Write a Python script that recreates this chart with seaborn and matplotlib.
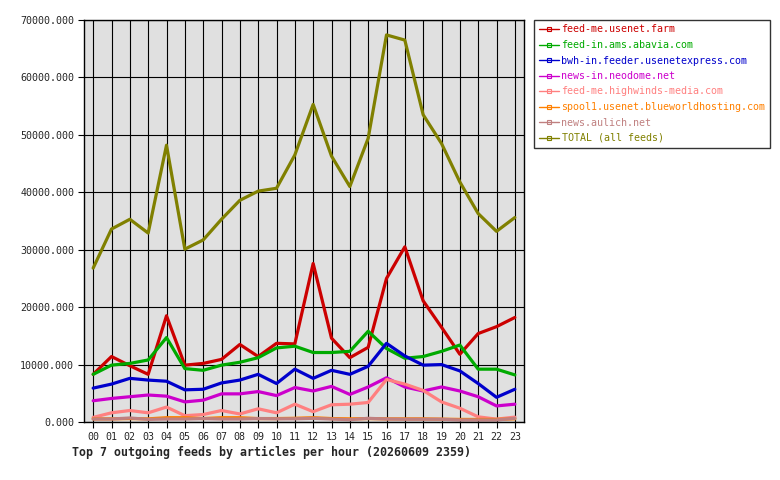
# hourly outgoing feed volumes, rrd style line chart

import matplotlib
matplotlib.use("Agg")
import matplotlib.pyplot as plt
import numpy as np
import pandas as pd
import seaborn as sns
from matplotlib.lines import Line2D

hours = list(range(24))
hour_labels = ["%02d" % h for h in hours]

feeds = [
    "feed-me.usenet.farm",
    "feed-in.ams.abavia.com",
    "bwh-in.feeder.usenetexpress.com",
    "news-in.neodome.net",
    "feed-me.highwinds-media.com",
    "spool1.usenet.blueworldhosting.com",
    "news.aulich.net",
    "TOTAL (all feeds)",
]
colors = ["#CC0000", "#00AA00", "#0000CC", "#CC00CC", "#FF8080", "#FF8000", "#C08080", "#808000"]

usenet_farm = [8300, 11400, 9800, 8300, 18500, 9900, 10200, 10900, 13500, 11400, 13700, 13600,
               27600, 14600, 11200, 13000, 25000, 30500, 21100, 16500, 11800, 15400, 16600, 18200]
abavia = [8300, 9900, 10200, 10800, 14700, 9300, 9000, 9900, 10400, 11200, 12900, 13200,
          12100, 12100, 12300, 15800, 12800, 11100, 11400, 12300, 13400, 9200, 9200, 8200]
usenetexpress = [5900, 6600, 7600, 7300, 7100, 5600, 5700, 6800, 7300, 8300, 6700, 9200,
                 7600, 9000, 8300, 9700, 13700, 11500, 9900, 10000, 8900, 6700, 4300, 5700]
neodome = [3700, 4100, 4400, 4700, 4500, 3500, 3800, 4900, 4900, 5300, 4600, 6000,
           5400, 6200, 4800, 6100, 7700, 6100, 5400, 6100, 5400, 4400, 2800, 3100]
highwinds = [800, 1600, 2000, 1600, 2600, 1100, 1300, 2000, 1400, 2300, 1600, 3100,
             1800, 3000, 3100, 3400, 7400, 6600, 5500, 3500, 2400, 900, 500, 850]
blueworld = [550, 550, 600, 550, 750, 750, 600, 750, 750, 600, 600, 650,
             750, 600, 550, 600, 550, 550, 550, 500, 450, 450, 450, 550]
aulich = [520, 520, 700, 460, 520, 520, 600, 520, 520, 600, 560, 560,
          640, 520, 400, 640, 520, 480, 480, 480, 350, 350, 350, 640]
total = [26800, 33600, 35300, 32900, 48200, 30100, 31700, 35300, 38600, 40200, 40700, 46500,
         55300, 46300, 41000, 49400, 67400, 66500, 53500, 48500, 41800, 36300, 33200, 35600]

series = [usenet_farm, abavia, usenetexpress, neodome, highwinds, blueworld, aulich, total]

df = pd.concat(
    [pd.DataFrame({"hour": hours, "articles": vals, "feed": name}) for name, vals in zip(feeds, series)],
    ignore_index=True,
)

sns.set_style("white")
plt.rcParams["font.family"] = ["DejaVu Sans Mono"]

fig = plt.figure(figsize=(7.8, 4.8), dpi=100)
ax = fig.add_axes([84 / 780, 58 / 480, 440 / 780, 402 / 480])
ax.set_facecolor("#E0E0E0")

sns.lineplot(data=df, x="hour", y="articles", hue="feed", hue_order=feeds,
             palette=dict(zip(feeds, colors)), linewidth=2.3, legend=False, ax=ax)

ax.set_xlim(-0.5, 23.5)
ax.set_ylim(0, 70000)
ax.set_xticks(hours)
ax.set_xticklabels(hour_labels)
ax.set_yticks(np.arange(0, 70001, 10000))
ax.set_yticklabels(["%.3f" % v for v in np.arange(0, 70001, 10000)])
ax.grid(True, color="black", linewidth=0.8)
ax.set_axisbelow(True)
ax.tick_params(axis="both", direction="out", length=4, width=0.8, color="black",
               labelsize=7.2, pad=3, left=True, bottom=True)
for sp in ax.spines.values():
    sp.set_color("black")
    sp.set_linewidth(1.0)
ax.set_xlabel("")
ax.set_ylabel("")

fig.text(72 / 780, 1 - 452 / 480, "Top 7 outgoing feeds by articles per hour (20260609 2359)",
         fontsize=8.4, fontweight="bold", va="center", ha="left")

handles = [Line2D([0], [0], color=c, linewidth=1.0, marker="s", markersize=2.5,
                  markerfacecolor="none", markeredgewidth=0.8) for c in colors]
leg = fig.legend(handles, feeds, loc="upper left", bbox_to_anchor=(534 / 780, 1 - 20 / 480),
                 bbox_transform=fig.transFigure, borderaxespad=0, fontsize=7.2,
                 frameon=True, fancybox=False, edgecolor="black", handlelength=2.0,
                 handletextpad=0.3, labelspacing=0.55, borderpad=0.45)
leg.get_frame().set_linewidth(1.0)
for txt, c in zip(leg.get_texts(), colors):
    txt.set_color(c)

fig.savefig("out.png", dpi=100, facecolor="white")
